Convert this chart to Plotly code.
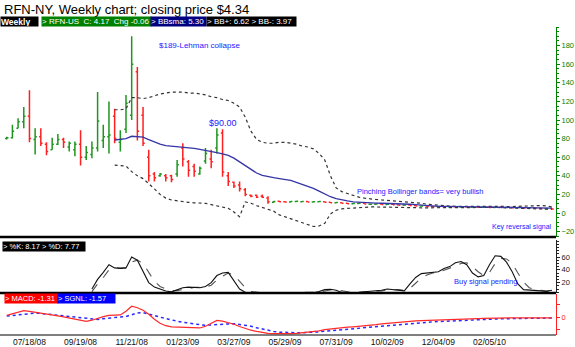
import pandas as pd
import plotly.graph_objects as go

# ---------------- data ----------------
start_date = "2008-06-20"
n_weeks = 97
dates = pd.date_range(start_date, periods=n_weeks, freq="7D")

opens = [80, 81, 91, 98, 104, 79, 82, 74, 68, 74,
         79, 71, 68, 74, 60, 63, 70, 78, 82, 104,
         76, 90, 105, 152, 105, 60, 42, 40, 40, 40,
         42, 70, 55, 50, 42, 56, 58, 70, 86, 40,
         33, 30, 25, 19, 19, 18, 16, 11.5, 12.6, 12.1,
         11.9, 12.3, 12.2, 12.5, 11.8, 12.0, 12.2, 11.5, 10.9, 11.1,
         10.5, 10.0, 10.2, 10.4, 9.3, 9.5, 9.7, 9.1, 9.3, 8.8,
         8.4, 8.5, 8.0, 7.4, 7.5, 7.1, 6.8, 7.0, 6.6, 6.8,
         6.4, 6.6, 6.2, 6.5, 6.1, 6.3, 5.9, 6.2, 5.8, 6.0,
         5.6, 5.8, 5.4, 5.6, 5.1, 4.7, 4.9]
highs = [82, 95, 102, 114, 132, 91, 91, 76, 81, 85,
         81, 77, 77, 89, 72, 77, 130, 95, 120, 112,
         89, 127, 190, 157, 114, 68, 44, 43, 42, 41,
         57, 75, 57, 53, 50, 70, 68, 91, 90, 44,
         34, 34, 27, 20, 20, 20, 18, 13, 13.1, 12.6,
         12.8, 12.9, 12.8, 12.7, 12.4, 12.6, 12.4, 11.7, 11.5, 11.2,
         10.7, 10.6, 10.8, 10.5, 9.8, 10.1, 9.8, 9.6, 9.4, 8.9,
         8.9, 8.6, 8.1, 7.8, 7.6, 7.2, 7.2, 7.1, 7.0, 6.9,
         6.8, 6.7, 6.7, 6.6, 6.5, 6.4, 6.4, 6.3, 6.2, 6.1,
         6.0, 5.9, 5.8, 5.7, 5.2, 5.1, 5.0]
lows = [79, 80, 91, 91, 76, 63, 72, 62, 68, 73,
        70, 66, 61, 51, 57, 59, 66, 70, 64, 75,
        66, 86, 100, 78, 72, 34, 34, 39, 34, 33,
        39, 50, 39, 39, 41, 53, 48, 64, 39, 29,
        27, 23, 18, 17, 16, 16, 10, 11, 11.8, 11.7,
        11.8, 12.1, 12.0, 11.6, 11.6, 11.9, 11.3, 10.8, 10.8, 10.3,
        9.8, 9.9, 10.1, 9.6, 9.2, 9.4, 9.0, 9.0, 8.6, 8.2,
        8.3, 7.8, 7.3, 7.3, 6.9, 6.6, 6.7, 6.4, 6.5, 6.2,
        6.3, 6.0, 6.1, 5.9, 6.0, 5.7, 5.8, 5.6, 5.7, 5.4,
        5.5, 5.2, 5.3, 4.9, 4.6, 4.6, 4.2]
closes = [81, 88, 98, 104, 80, 82, 75, 66, 74, 79,
          76, 75, 74, 60, 65, 70, 99, 82, 84, 80,
          79, 118, 160, 88, 75, 40, 38, 42, 38, 36,
          52, 58, 46, 45, 48, 64, 55, 84, 44, 34,
          29, 26, 20, 18, 17, 17, 12, 12.5, 12.0, 11.9,
          12.4, 12.6, 12.5, 11.8, 12.1, 12.3, 11.5, 11.0, 11.2, 10.5,
          10.0, 10.3, 10.5, 9.8, 9.5, 9.8, 9.2, 9.4, 8.8, 8.4,
          8.6, 8.0, 7.5, 7.6, 7.1, 6.8, 7.0, 6.6, 6.8, 6.4,
          6.6, 6.2, 6.5, 6.1, 6.3, 5.9, 6.2, 5.8, 6.0, 5.6,
          5.8, 5.4, 5.6, 5.1, 4.8, 4.9, 4.34]

bb_start = 19
bb_upper = [111, 111, 112, 124, 124, 123, 124, 126, 128, 129,
            130, 130, 130, 129, 129, 128, 127, 125, 124, 122,
            121, 118, 114, 103, 88, 79, 76, 75, 75, 76,
            76, 75, 74, 72, 71, 69, 64, 57, 40, 27,
            23, 21, 19, 17, 16, 15, 14.5, 14, 13.5, 13,
            12.8, 12.5, 12, 11.5, 10.5, 9.5, 8.8, 8.2, 7.6, 7.4,
            7.2, 7.1, 7, 7, 7, 7, 7, 7, 7, 7,
            7, 7.2, 7.5, 7.8, 8, 8, 7.6, 6.62]
bb_sma = [78.5, 79, 80, 82.5, 82, 81.5, 79, 76.5, 74, 72.5,
          72, 71.5, 71, 70.5, 69.5, 68.5, 67.5, 66.5, 65, 63.5,
          62, 59, 55, 51, 46.5, 43, 40.5, 39, 38, 37,
          36, 35, 33, 31, 29, 26.5, 23.5, 20.5, 17.5, 15.5,
          14, 13, 12, 11.5, 11, 10.8, 10.6, 10.5, 10.4, 10.3,
          10.1, 9.8, 9.4, 9, 8.4, 7.8, 7.4, 7.2, 7.1, 7,
          7, 6.9, 6.8, 6.7, 6.6, 6.5, 6.4, 6.3, 6.2, 6.1,
          6, 5.9, 5.8, 5.7, 5.6, 5.5, 5.4, 5.3]
bb_lower = [51.5, 51, 50.5, 44.5, 40, 37, 32, 26, 20, 16,
            14, 13, 12.2, 11.5, 11, 10.5, 10.4, 9, 7.5, 6,
            5, 1, -4, 12, 10.5, 8, 6, 4.5, 2, -2,
            -4, -6, -8, -10, -12.5, -14.5, -14, -11, -1, 3,
            4.5, 5, 5.5, 6, 6.5, 6.5, 6.5, 6.3, 6.2, 6,
            6, 5.8, 5.7, 5.6, 5.6, 5.6, 5.7, 5.7, 5.7, 5.8,
            5.8, 5.9, 5.9, 6, 6, 6, 6, 6, 5.8, 5.6,
            5.4, 5.1, 4.8, 4.5, 4.2, 4.1, 4.0, 3.97]

stoch_start = 15
stoch_k = [10, 25, 36, 48, 43, 42, 43, 60, 55, 38,
           20, 13, 10, 7, 5.5, 9, 12, 13, 12, 12,
           14, 20, 31, 35, 36, 24, 10, 5, 4, 4,
           4.5, 4, 4, 4, 4, 4, 4, 4, 4, 4,
           6, 9, 9.5, 8, 4.5, 4, 4.5, 5, 5.5, 6,
           6.5, 8, 10, 9, 8, 7, 18, 28, 34, 35,
           36, 37, 42, 45, 51, 53, 48, 35, 29, 31,
           48, 62, 61, 52, 37, 18, 9, 8.5, 8.5, 7,
           6, 8.17]
stoch_d = [6, 18, 28, 40, 43, 43, 43, 52, 55, 50,
           35, 22, 14, 10, 7.5, 7.5, 9, 11, 12.5, 12.5,
           13, 16, 24, 30, 35, 32, 22, 12, 6, 4.5,
           4, 4, 4, 4, 4, 4, 4, 4, 4, 4,
           5, 7, 8.5, 8.5, 7, 5.5, 4.5, 4.5, 5, 5.5,
           6, 7, 8.5, 9, 9, 8, 11, 19, 27, 32,
           35, 36, 39, 42, 46, 50, 51, 45, 37, 31,
           36, 50, 58, 57, 50, 35, 21, 12, 9, 8,
           7, 7.77]

macd = [3.6, 7, 10.5, 13, 11.5, 10, 8, 6, 4, 2.5,
        0.5, -1.5, -3, -6, -8.5, -6, -2, 1, 3.5, 4,
        4.5, 12, 22, 19, 14, 6, -4, -12, -17, -19.5,
        -20, -19.7, -20, -21, -21.5, -18, -12, -6.5, -8, -10.5,
        -14, -18.5, -22.5, -26, -28.5, -31, -32.5, -33, -33.3, -33.3,
        -33, -32.5, -31.5, -30.5, -29.5, -27.5, -25, -23.5, -22.5, -21,
        -20, -19.2, -18.5, -17.8, -16.5, -15, -13.5, -12.3, -11, -10,
        -9, -8.3, -7.5, -6.8, -6.5, -6.5, -6.5, -6.2, -5.8, -5.3,
        -4.8, -4.2, -3.5, -3, -2.5, -2, -1.5, -1.4, -1.3, -1.2,
        -1.2, -1.2, -1.2, -1.2, -1.2, -1.25, -1.31]
signal = [2.2, 3.5, 5, 6.5, 7.5, 8.2, 7.5, 6.3, 5, 3.8,
          2.5, 1.2, 0, -1.5, -3, -4.5, -4.5, -3, -1.5, -0.5,
          0.3, 1.5, 5, 8.5, 9.3, 7, 3.5, 0, -3, -5.5,
          -8, -10, -12, -13.5, -15, -16, -15.5, -14, -13, -12.5,
          -13, -14.5, -16, -18, -21, -24, -26.5, -28.5, -30, -30.7,
          -31, -31, -31, -30.7, -30, -29.3, -28, -27, -26, -24.8,
          -23.5, -22.5, -21.5, -20.5, -19.5, -18.3, -17, -16, -15, -14,
          -13.2, -12.3, -11.5, -10.5, -9.8, -9.2, -8.6, -8, -7.5, -7,
          -6.5, -6, -5.5, -5, -4.5, -4, -3.6, -3.3, -3, -2.8,
          -2.6, -2.4, -2.2, -2, -1.8, -1.7, -1.57]

x_tick_dates = ["2008-07-18", "2008-09-19", "2008-11-21", "2009-01-23", "2009-03-27",
                "2009-05-29", "2009-07-31", "2009-10-02", "2009-12-04", "2010-02-05"]
x_tick_text = ["07/18/08", "09/19/08", "11/21/08", "01/23/09", "03/27/09",
               "05/29/09", "07/31/09", "10/02/09", "12/04/09", "02/05/10"]
price_ticks = [-20, 0, 20, 40, 60, 80, 100, 120, 140, 160, 180]
stoch_ticks = [20, 40, 60]

# ---------------- figure ----------------
W, H = 575, 347
ML, MR, MT, MB = 0, 19, 0, 12
PW, PH = W - ML - MR, H - MT - MB
FONT = "Liberation Sans, Arial, sans-serif"

def px(x):
    return (x - ML) / PW

def py(y):
    return (H - MB - y) / PH

fig = go.Figure()

fig.add_trace(go.Ohlc(
    x=dates, open=opens, high=highs, low=lows, close=closes,
    increasing=dict(line=dict(color="#1f961f", width=1.5)),
    decreasing=dict(line=dict(color="#ff2020", width=1.5)),
    tickwidth=0.3, xaxis="x", yaxis="y", hoverinfo="skip"))

bb_dates = dates[bb_start:]
fig.add_trace(go.Scatter(x=bb_dates, y=bb_upper, mode="lines",
                         line=dict(color="#333333", width=1.2, dash="dot"), xaxis="x", yaxis="y"))
fig.add_trace(go.Scatter(x=bb_dates, y=bb_lower, mode="lines",
                         line=dict(color="#333333", width=1.2, dash="dot"), xaxis="x", yaxis="y"))
fig.add_trace(go.Scatter(x=bb_dates, y=bb_sma, mode="lines",
                         line=dict(color="#3535a5", width=1.3), xaxis="x", yaxis="y"))

st_dates = dates[stoch_start:]
fig.add_trace(go.Scatter(x=st_dates, y=stoch_d, mode="lines",
                         line=dict(color="#555555", width=1.1, dash="dash"), xaxis="x", yaxis="y2"))
fig.add_trace(go.Scatter(x=st_dates, y=stoch_k, mode="lines",
                         line=dict(color="#111111", width=1.1), xaxis="x", yaxis="y2"))

fig.add_trace(go.Scatter(x=dates, y=signal, mode="lines",
                         line=dict(color="#2a2aff", width=1.5, dash="dot"), xaxis="x", yaxis="y3"))
fig.add_trace(go.Scatter(x=dates, y=macd, mode="lines",
                         line=dict(color="#ff2a2a", width=1.2), xaxis="x", yaxis="y3"))

day0 = pd.Timestamp(start_date)
x_range = [day0 - pd.Timedelta(days=8.3), day0 + pd.Timedelta(days=677)]

fig.update_layout(
    width=W, height=H,
    margin=dict(l=ML, r=MR, t=MT, b=MB),
    paper_bgcolor="white", plot_bgcolor="white",
    showlegend=False,
    font=dict(family=FONT, size=8, color="black"),
    xaxis=dict(domain=[0, 1], type="date", range=x_range, anchor="y3",
               tickvals=x_tick_dates, ticktext=x_tick_text, ticks="",
               tickfont=dict(size=8.5, color="#111"), showgrid=False, zeroline=False,
               showline=False, rangeslider=dict(visible=False)),
    yaxis=dict(domain=[py(237), py(27)], range=[-25.8, 200], side="right", anchor="x",
               tickvals=price_ticks, ticks="outside", ticklen=3, tickcolor="#008000",
               tickfont=dict(size=7.5, color="#008000"), showline=True, linecolor="#008000",
               minor=dict(dtick=5, ticks="outside", ticklen=2, tickcolor="#008000"),
               showgrid=False, zeroline=False),
    yaxis2=dict(domain=[py(293), py(240)], range=[3.75, 86.6], side="right", anchor="x",
                tickvals=stoch_ticks, ticks="outside", ticklen=3, tickcolor="#222",
                tickfont=dict(size=7.5, color="#222"), showline=True, linecolor="#222",
                minor=dict(dtick=5, ticks="outside", ticklen=2, tickcolor="#222"),
                showgrid=False, zeroline=False),
    yaxis3=dict(domain=[0, py(294)], range=[-35.6, 46.4], side="right", anchor="x",
                tickvals=[-25, 0, 25], ticktext=["", "0", ""], ticks="outside", ticklen=3,
                tickcolor="#ff2020", tickfont=dict(size=7.5, color="#ff2020"),
                showline=True, linecolor="#ff2020", showgrid=False, zeroline=False),
)

shapes = []
for yy, wd in [(237, 2.5), (293, 2.5), (335, 1)]:
    shapes.append(dict(type="line", xref="paper", yref="paper", x0=0, x1=1,
                       y0=py(yy), y1=py(yy), line=dict(color="black", width=wd)))
fig.update_layout(shapes=shapes)

ann = []
ann.append(dict(text="RFN-NY, Weekly chart; closing price $4.34", x=px(2), y=py(9),
                xref="paper", yref="paper", xanchor="left", yanchor="middle",
                showarrow=False, font=dict(size=13, color="black", family=FONT)))

def box(text, x0, x1, yc, bg, size=8, bold=False):
    t = "<b>%s</b>" % text if bold else text
    return dict(text=t, x=px(x0), y=py(yc), xref="paper", yref="paper",
                xanchor="left", yanchor="middle", showarrow=False, align="left",
                width=x1 - x0, height=9, bgcolor=bg, borderpad=0,
                font=dict(size=size, color="white", family=FONT))

ann.append(box("Weekly", 0, 37, 21.5, "black", 8.5, True))
ann.append(box("&gt; RFN-US  C: 4.17  Chg -0.06", 41, 150, 21.5, "#008000"))
ann.append(box("&gt; BBsma: 5.30", 150, 205, 21.5, "#000080"))
ann.append(box("&gt; BB+: 6.62 &gt; BB-: 3.97", 206, 295, 21.5, "black"))
ann.append(box("&gt; %K: 8.17 &gt; %D: 7.77", 2, 84, 246, "black", 7.5))
ann.append(box("&gt; MACD: -1.31", 4, 57, 298, "#ff0000", 7.5))
ann.append(box("&gt; SGNL: -1.57", 57, 114, 298, "#0000ff", 7.5))

def note(text, x0, yc, size):
    return dict(text=text, x=px(x0), y=py(yc), xref="paper", yref="paper",
                xanchor="left", yanchor="middle", showarrow=False,
                font=dict(size=size, color="#1a1aff", family=FONT))

ann.append(note("$189-Lehman collapse", 157, 46, 8))
ann.append(note("$90.00", 207, 123, 9))
ann.append(note("Pinching Bollinger bands= very bullish", 355, 191.5, 7.5))
ann.append(note("Key reversal signal", 490, 227, 7))
ann.append(note("Buy signal pending", 452, 281, 7.5))
fig.update_layout(annotations=ann)

fig.write_html("out.html")
